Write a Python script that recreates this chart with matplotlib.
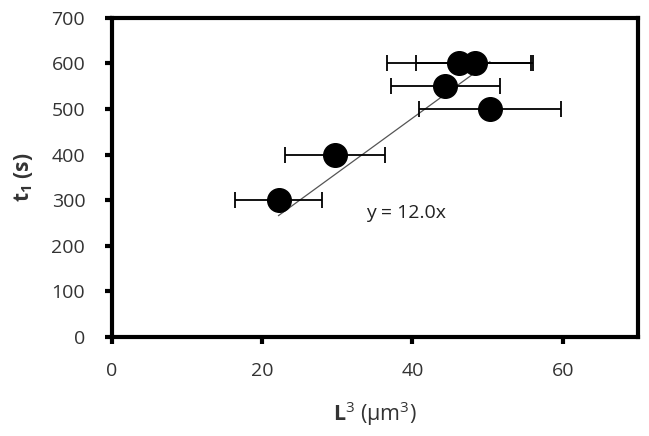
import matplotlib
matplotlib.use("Agg")
import matplotlib.pyplot as plt
import numpy as np

plt.rcParams['font.family'] = ['Open Sans', 'DejaVu Sans']
plt.rcParams['mathtext.fontset'] = 'custom'
plt.rcParams['mathtext.rm'] = 'Open Sans'
plt.rcParams['mathtext.it'] = 'Open Sans:italic'
plt.rcParams['mathtext.bf'] = 'Open Sans:bold'

# Data
L3 = [22.2, 29.7, 44.4, 46.2, 48.3, 50.3]
t1 = [300, 400, 550, 600, 600, 500]
L3_err = [5.8, 6.7, 7.3, 9.6, 7.8, 9.4]
slope = 12.0
x_ticks = [0, 20, 40, 60]
y_ticks = [0, 100, 200, 300, 400, 500, 600, 700]

FS = 14
fig = plt.figure(figsize=(6.49, 4.36), dpi=100)
ax = fig.add_axes([0.172, 0.227, 0.811, 0.732])

# trendline
xl = np.array([min(L3), max(L3)])
ax.plot(xl, slope * xl, color='#555555', lw=0.9, zorder=1)

ax.errorbar(L3, t1, xerr=L3_err, fmt='o', color='black', ms=17,
            ecolor='black', elinewidth=1.3, capsize=6, capthick=1.3, zorder=3)

ax.text(33.8, 272, 'y = 12.0x', fontsize=FS, va='center', ha='left', color='#222222')

ax.set_xlim(0, 70)
ax.set_ylim(0, 700)
ax.set_xticks(x_ticks)
ax.set_yticks(y_ticks)
for s in ax.spines.values():
    s.set_linewidth(3)
ax.tick_params(direction='out', length=5, width=3, labelsize=FS, colors='black')
ax.tick_params(axis='x', labelcolor='#333333', pad=13)
ax.tick_params(axis='y', labelcolor='#333333', pad=14)

ax.set_xlabel(r'$\mathbf{L}^{3}$ (μm$^{3}$)', fontsize=15.5, labelpad=14, color='#333333')
ax.set_ylabel(r'$\mathbf{t_{1}}$ (s)', fontsize=15, fontweight='bold', labelpad=12, color='#333333')

fig.savefig('out.png', dpi=100)
